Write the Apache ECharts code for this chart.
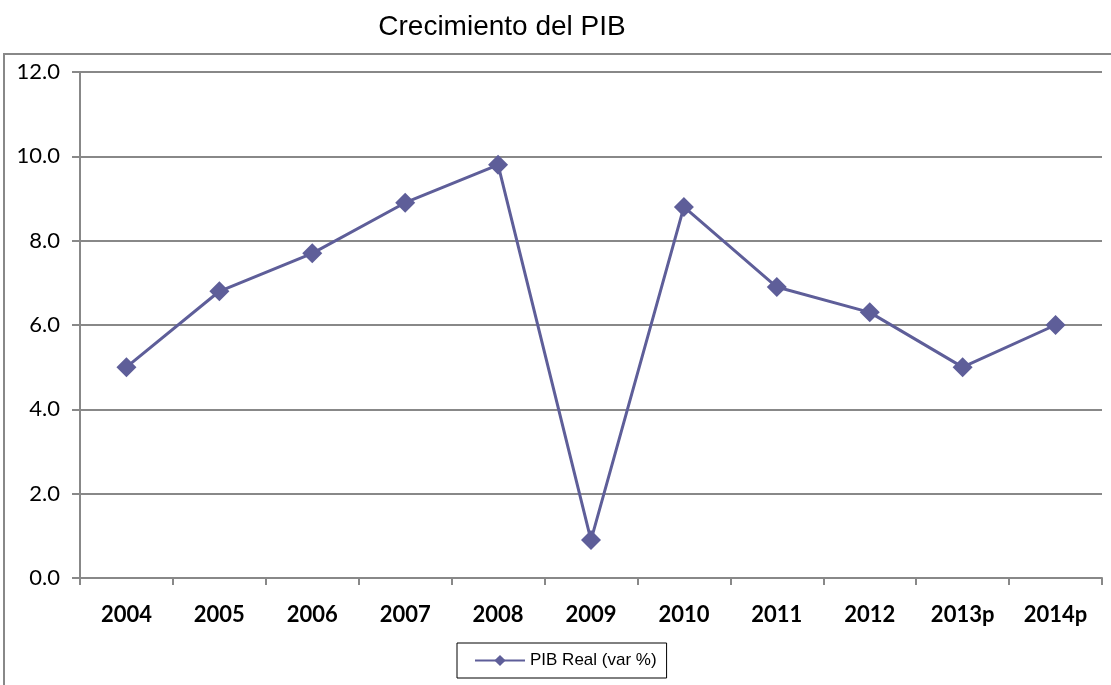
<!DOCTYPE html>
<html>
<head>
<meta charset="utf-8">
<script src="https://cdn.jsdelivr.net/npm/echarts@6/dist/echarts.min.js"></script>
<style>html,body{margin:0;padding:0;background:#fff;}#c{width:1111px;height:685px;}</style>
</head>
<body>
<div id="c"></div>
<script>
const categories = ['2004','2005','2006','2007','2008','2009','2010','2011','2012','2013p','2014p'];
const pibReal = [5.0, 6.8, 7.7, 8.9, 9.8, 0.9, 8.8, 6.9, 6.3, 5.0, 6.0];
const seriesName = 'PIB Real (var %)';
const titleText = 'Crecimiento del PIB';

const chart = echarts.init(document.getElementById('c'), null, {renderer: 'canvas'});
chart.setOption({
  animation: false,
  backgroundColor: '#fff',
  title: {
    text: titleText,
    left: 497,
    top: 8,
    textAlign: 'center',
    textStyle: {fontFamily: 'Liberation Sans', fontSize: 28, fontWeight: 'normal', color: '#000'}
  },
  graphic: [{
    type: 'rect',
    shape: {x: 4, y: 54, width: 1200, height: 800},
    style: {fill: 'none', stroke: '#888', lineWidth: 2},
    silent: true
  }],
  grid: {left: 80, right: 9, top: 72, bottom: 107},
  legend: {
    data: [seriesName],
    left: 457,
    top: 643,
    padding: [9, 10, 9, 17],
    borderColor: '#000',
    borderWidth: 1,
    itemWidth: 50,
    itemHeight: 14,
    textStyle: {fontFamily: 'Liberation Sans', fontSize: 17, color: '#000'}
  },
  xAxis: {
    type: 'category',
    data: categories,
    boundaryGap: true,
    axisLine: {lineStyle: {color: '#888', width: 2}},
    axisTick: {show: true, length: 7, interval: 0, lineStyle: {color: '#888', width: 2}},
    axisLabel: {interval: 0, margin: 26, fontFamily: 'Lato', fontSize: 22, fontWeight: 'bold', color: '#000'}
  },
  yAxis: {
    type: 'value',
    min: 0, max: 12, interval: 2,
    axisLine: {show: true, lineStyle: {color: '#888', width: 2}},
    axisTick: {show: true, length: 8, lineStyle: {color: '#888', width: 2}},
    axisLabel: {margin: 20, fontFamily: 'Lato', fontSize: 22, color: '#000', formatter: v => v.toFixed(1)},
    splitLine: {show: true, lineStyle: {color: '#888', width: 2}}
  },
  series: [{
    name: seriesName,
    type: 'line',
    data: pibReal,
    symbol: 'diamond',
    symbolSize: 20,
    lineStyle: {color: '#5E5E99', width: 3},
    itemStyle: {color: '#5E5E99'}
  }]
});
</script>
</body>
</html>
